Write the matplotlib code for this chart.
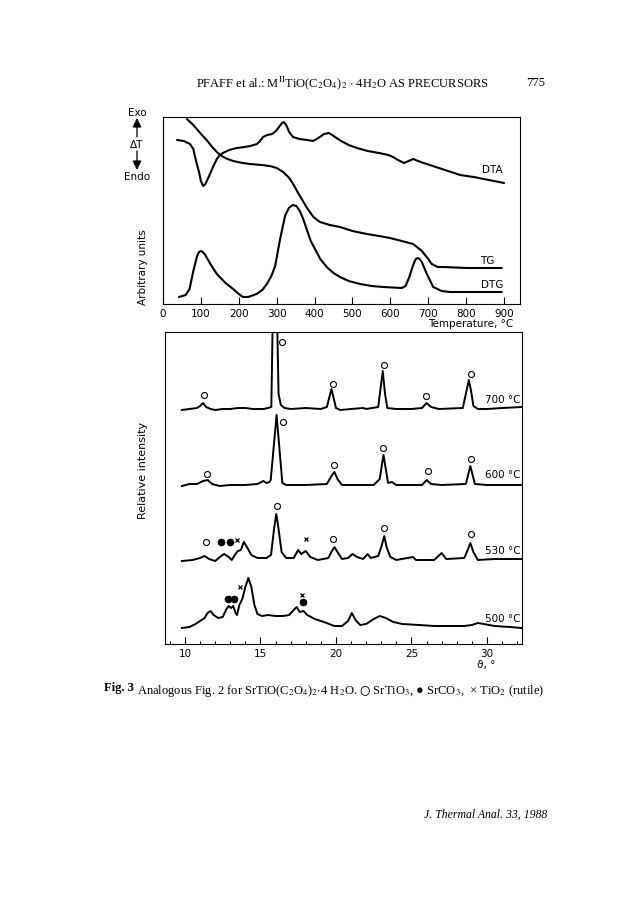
import matplotlib
matplotlib.use("Agg")
import matplotlib.pyplot as plt
from matplotlib.patches import FancyArrowPatch
from matplotlib.ticker import MultipleLocator

plt.rcParams['font.family'] = ['DejaVu Sans']
plt.rcParams['mathtext.fontset'] = 'stix'

W, H = 643, 903

# ---- thermal analysis (top) : temperature in degC, signal in arbitrary units
dta_t = [37, 55, 71, 80, 84, 90, 95, 100, 106, 112, 118, 124, 132, 142, 150, 158, 175, 195,
         215, 230, 248, 256, 264, 275, 288, 298, 308, 314, 319, 325, 333, 343, 360, 380, 396,
         410, 425, 438, 450, 470, 490, 512, 540, 570, 595, 607, 620, 636, 648, 660, 680, 720,
         760, 784, 820, 860, 900]
dta_v = [164, 163, 160, 155, 148, 139, 132, 123, 118, 120, 125, 130, 137, 145, 149, 151, 154, 156,
         157, 158, 160, 163, 167, 169, 170, 173, 178, 181, 182, 179, 172, 167, 165, 164, 163,
         166, 170, 171, 168, 163, 159, 156, 153, 151, 149, 147, 144, 141, 143, 145, 142, 137,
         132, 129, 127, 124, 121]

tg_t = [63, 80, 98, 115, 132, 145, 155, 170, 185, 210, 230, 260, 282, 300, 317, 328, 335, 345,
        355, 366, 380, 397, 414, 440, 467, 500, 538, 570, 599, 630, 660, 683, 700, 709, 725,
        739, 802, 894]
tg_v = [185, 179, 171, 164, 156, 151, 148, 145, 143, 141, 140, 139, 138, 136, 132, 128, 125, 119,
        112, 105, 96, 87, 82, 79, 77, 73, 70, 68, 66, 63, 60, 53, 45, 40, 37,
        37, 36, 36]

dtg_t = [42, 60, 70, 80, 90, 95, 100, 105, 110, 125, 142, 165, 185, 200, 211, 225, 247, 262, 274,
         286, 296, 309, 322, 332, 342, 352, 361, 370, 379, 390, 401, 415, 432, 450, 467, 490,
         520, 550, 581, 630, 640, 650, 660, 667, 672, 677, 683, 695, 713, 735, 757, 800, 850, 894]
dtg_v = [7, 9, 15, 33, 48, 52, 53, 52, 50, 40, 30, 21, 15, 10, 7, 7, 10, 14, 20,
         28, 38, 65, 88, 96, 99, 98, 93, 85, 75, 63, 55, 45, 37, 31, 27, 23,
         20, 18, 17, 16, 18, 27, 39, 45, 46, 45, 42, 31, 17, 13, 12, 12, 12, 12]

temp_ticks = [0, 100, 200, 300, 400, 500, 600, 700, 800, 900]

# ---- X-ray diffraction (bottom) : 2theta in degrees, intensity above each baseline
xrd_700_x = [9.8, 10.3, 10.8, 11.0, 11.2, 11.4, 11.7, 12.0, 12.5, 13.0, 13.5, 14.0, 14.5, 15.2,
             15.5, 15.72, 15.8, 15.95, 16.12, 16.2, 16.35, 16.6, 17.0, 18.0, 19.0, 19.4, 19.6,
             19.7, 19.8, 20.0, 20.3, 21.0, 21.8, 22.0, 22.8, 22.95, 23.1, 23.25, 23.4, 24.0,
             25.0, 25.7, 26.0, 26.3, 26.8, 28.4, 28.6, 28.8, 28.95, 29.1, 29.4, 30.0, 31.0, 32.3]
xrd_700_y = [-1, 0, 1, 3, 6, 2, 0, -1, 0, 0, 1, 1, 0, 0,
             1, 2, 77, 210, 77, 15, 4, 1, 0, 1, 0, 2, 14,
             20, 14, 1, -1, 0, 1, 0, 2, 20, 38, 15, 1, 0,
             0, 1, 6, 2, 0, 1, 15, 29, 18, 3, 0, 0, 1, 2]

xrd_600_x = [9.8, 10.3, 10.8, 11.2, 11.5, 11.8, 12.3, 13.0, 14.0, 14.8, 15.2, 15.4, 15.6, 15.68,
             16.07, 16.45, 16.7, 18.0, 19.4, 19.7, 19.9, 20.1, 20.4, 22.5, 22.9, 23.05, 23.15,
             23.3, 23.45, 23.7, 24.0, 25.7, 26.0, 26.3, 27.0, 28.6, 28.8, 28.9, 29.05, 29.2,
             30.0, 32.3]
xrd_600_y = [-2, 0, 0, 3, 4, 0, -2, -1, -1, 0, 3, 1, 2, 4,
             69, 1, -1, -1, 0, 8, 12, 5, -1, -1, 5, 20, 29,
             15, 1, 2, -1, -1, 4, 0, -1, 0, 12, 18, 9, 0,
             -1, -1]

xrd_530_x = [9.8, 10.5, 11.0, 11.3, 11.6, 12.0, 12.4, 12.6, 12.9, 13.1, 13.3, 13.5, 13.7, 13.9,
             14.1, 14.4, 14.8, 15.4, 15.7, 15.9, 16.05, 16.2, 16.4, 16.7, 17.2, 17.5, 17.7, 18.0,
             18.3, 18.8, 19.5, 19.7, 19.9, 20.1, 20.4, 20.8, 21.1, 21.4, 21.8, 22.1, 22.3, 22.8,
             23.0, 23.2, 23.35, 23.6, 24.0, 25.1, 25.3, 26.5, 27.0, 27.3, 28.5, 28.75, 28.9,
             29.1, 29.4, 30.5, 32.3]
xrd_530_y = [-1, 0, 2, 4, 1, -1, 4, 6, 3, 0, 5, 9, 10, 18,
             13, 5, 2, 2, 5, 31, 46, 31, 8, 2, 2, 10, 6, 9,
             3, 0, 2, 8, 13, 8, 1, 2, 6, 3, 1, 6, 2, 4,
             13, 24, 13, 3, 0, 3, 0, 0, 7, 1, 2, 11, 17,
             8, 0, 1, 1]

xrd_500_x = [9.8, 10.3, 10.7, 11.0, 11.3, 11.5, 11.7, 11.9, 12.2, 12.5, 12.75, 12.9, 13.05, 13.2,
             13.35, 13.45, 13.6, 13.8, 14.0, 14.2, 14.4, 14.6, 14.8, 15.1, 15.5, 16.0, 16.5,
             16.9, 17.2, 17.4, 17.6, 17.85, 18.1, 18.6, 19.2, 19.9, 20.4, 20.8, 21.05, 21.3,
             21.6, 22.0, 22.5, 22.9, 23.3, 23.8, 24.4, 25.5, 26.5, 27.5, 28.5, 29.0, 29.4,
             29.8, 30.5, 31.5, 32.3]
xrd_500_y = [0, 1, 4, 7, 10, 15, 17, 13, 10, 11, 19, 22, 20, 22,
             15, 13, 23, 29, 41, 50, 41, 23, 14, 12, 13, 12, 12,
             13, 18, 21, 16, 17, 13, 9, 6, 2, 2, 7, 15, 8,
             3, 4, 9, 12, 10, 6, 4, 3, 2, 2, 2, 3, 5,
             4, 2, 1, 0]

# phase marks: (2theta, height above baseline)
sr_tio3 = {'700': [(11.26, 14), (16.42, 67), (19.80, 25), (23.18, 44), (25.96, 13), (28.94, 35)],
           '600': [(11.46, 10), (16.49, 62), (19.87, 19), (23.11, 36), (26.09, 13), (28.94, 25)],
           '530': [(11.39, 18), (16.09, 54), (19.80, 21), (23.18, 32), (28.94, 26)]}
sr_co3 = {'530': [(12.38, 18), (12.98, 18)],
          '500': [(12.85, 29), (13.25, 29), (17.81, 26)]}
tio2 = {'530': [(13.44, 20), (18.01, 21)],
        '500': [(13.64, 41), (17.75, 33)]}

temps = ['700', '600', '530', '500']
scans = {'700': (xrd_700_x, xrd_700_y), '600': (xrd_600_x, xrd_600_y),
         '530': (xrd_530_x, xrd_530_y), '500': (xrd_500_x, xrd_500_y)}
baseline = {'700': 235, '600': 160, '530': 84, '500': 16}


def fx(x):
    return x / W


def fy(y):
    return 1 - y / H


fig = plt.figure(figsize=(W / 100, H / 100), dpi=100)
fig.patch.set_facecolor('white')

# top axes
ax1 = fig.add_axes([fx(163), fy(305), (520 - 163) / W, (305 - 118) / H])
for c_t, c_v in [(dta_t, dta_v), (tg_t, tg_v), (dtg_t, dtg_v)]:
    ax1.plot(c_t, c_v, color='black', lw=1.5, solid_joinstyle='round', solid_capstyle='round')
ax1.set_xlim(0, 942)
ax1.set_ylim(0, 187)
ax1.set_xticks(temp_ticks)
ax1.set_yticks([])
ax1.tick_params(axis='x', direction='in', length=5, width=0.8, pad=3, labelsize=7.5)
ax1.text(868, 135, 'DTA', fontsize=7.5, ha='center', va='center')
ax1.text(855, 44, 'TG', fontsize=7.5, ha='center', va='center')
ax1.text(868, 20, 'DTG', fontsize=7.5, ha='center', va='center')

# bottom axes
ax2 = fig.add_axes([fx(165), fy(645), (522 - 165) / W, (645 - 333) / H])
for t in temps:
    sx, sy = scans[t]
    b = baseline[t]
    ax2.plot(sx, [v + b for v in sy], color='black', lw=1.4, solid_joinstyle='round')
    for p, h in sr_tio3.get(t, []):
        ax2.plot(p, b + h, 'o', mfc='none', mec='black', ms=4.3, mew=0.8)
    for p, h in sr_co3.get(t, []):
        ax2.plot(p, b + h, 'o', color='black', ms=4.5)
    for p, h in tio2.get(t, []):
        ax2.plot(p, b + h, 'x', color='black', ms=3.5, mew=0.9)
    ax2.text(29.85, b + 10, t + ' °C', fontsize=7.5, ha='left', va='center')
ax2.set_xlim(8.68, 32.32)
ax2.set_ylim(0, 312)
ax2.xaxis.set_major_locator(MultipleLocator(5))
ax2.xaxis.set_minor_locator(MultipleLocator(1))
ax2.set_yticks([])
ax2.tick_params(axis='x', which='major', direction='in', length=5, width=0.8, pad=3, labelsize=7.5)
ax2.tick_params(axis='x', which='minor', direction='in', length=2.5, width=0.8)

for ax in (ax1, ax2):
    for s in ax.spines.values():
        s.set_linewidth(0.8)

# axis annotations
fig.text(fx(513), fy(324), 'Temperature, °C', fontsize=7.5, ha='right', va='center')
fig.text(fx(486), fy(665), 'ϑ, °', fontsize=7.5, ha='center', va='center')
fig.text(fx(143), fy(267), 'Arbitrary units', fontsize=7.5, rotation=90, ha='center', va='center')
fig.text(fx(143), fy(470), 'Relative intensity', fontsize=8, rotation=90, ha='center', va='center')
fig.text(fx(137), fy(113), 'Exo', fontsize=7.5, ha='center', va='center')
fig.text(fx(137), fy(145), 'ΔT', fontsize=7.5, ha='center', va='center')
fig.text(fx(137), fy(177), 'Endo', fontsize=7.5, ha='center', va='center')
arr = dict(arrowstyle='-|>,head_length=0.45,head_width=0.22', color='black', lw=0.9,
           mutation_scale=12, shrinkA=0, shrinkB=0, transform=fig.transFigure)
fig.add_artist(FancyArrowPatch((fx(137), fy(138)), (fx(137), fy(119)), **arr))
fig.add_artist(FancyArrowPatch((fx(137), fy(152)), (fx(137), fy(171)), **arr))

# page text
serif = ['Liberation Serif', 'DejaVu Serif']
fig.text(fx(342), fy(83),
         r'PFAFF et al.: M$^{\rm II}$TiO(C$_2$O$_4$)$_2$ $\cdot$ 4H$_2$O AS PRECURSORS',
         fontsize=9, family=serif, ha='center', va='center')
fig.text(fx(545), fy(83), '775', fontsize=9, family=serif, ha='right', va='center')

t1 = fig.text(fx(104), fy(691), 'Fig. 3', fontsize=9, family=serif, weight='bold',
              ha='left', va='baseline')
fig.add_artist(plt.Annotation(
    r' Analogous Fig. 2 for SrTiO(C$_2$O$_4$)$_2$$\cdot$4 H$_2$O. $\bigcirc$ SrTiO$_3$, '
    r'● SrCO$_3$,  × TiO$_2$ (rutile)',
    xy=(1, 0), xycoords=t1, va='baseline', ha='left', fontsize=9,
    family=['Liberation Serif', 'DejaVu Sans']))

fig.text(fx(547), fy(815), 'J. Thermal Anal. 33, 1988', fontsize=8.5, family=serif,
         style='italic', ha='right', va='center')

fig.savefig('out.png', dpi=100, facecolor='white')
